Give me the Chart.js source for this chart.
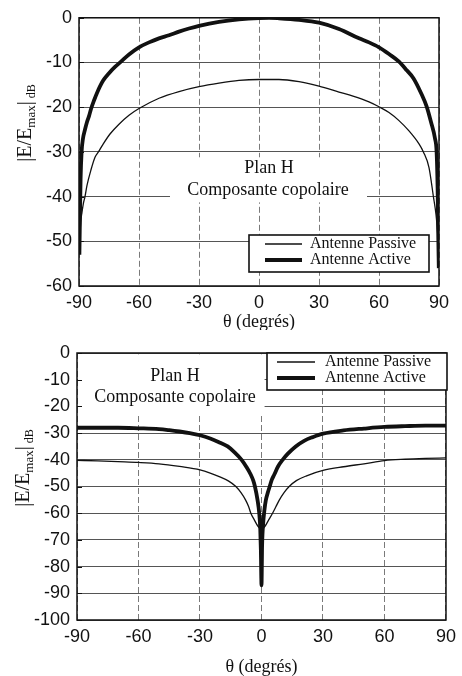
<!DOCTYPE html>
<html>
<head>
<meta charset="utf-8">
<title>Plan H - composante copolaire</title>
<script src="https://cdn.jsdelivr.net/npm/chart.js@4.4.1/dist/chart.umd.min.js"></script>
<style>
  html, body { margin: 0; padding: 0; background: #fff; }
  .panel { position: absolute; left: 0; width: 462px; }
  #panel-top    { top: 0;     height: 330px; }
  #panel-bottom { top: 330px; height: 346px; }
</style>
</head>
<body>
<div class="panel" id="panel-top"><canvas id="chart-top" width="462" height="330"></canvas></div>
<div class="panel" id="panel-bottom"><canvas id="chart-bottom" width="462" height="346"></canvas></div>
<script>
// ── Data ───────────────────────────────────────────────────
const thetaTicks   = [-90, -60, -30, 0, 30, 60, 90];
const topDbTicks   = [0, -10, -20, -30, -40, -50, -60];
const botDbTicks   = [0, -10, -20, -30, -40, -50, -60, -70, -80, -90, -100];
const seriesNames  = ['Antenne Passive', 'Antenne Active'];
const noteLines    = ['Plan H', 'Composante copolaire'];
const xTitle       = 'θ (degrés)';

// upper plot: copolar, normalised to active maximum
const topActiveTheta  = [-89.8, -89.5, -89.2, -88.7, -88, -87, -86, -85, -84, -82.5, -81, -78, -75, -72, -69, -65, -60, -55, -50, -45, -40, -35, -30, -20, -10, 0, 5, 10, 20, 30, 40, 50, 55, 60, 65, 70, 74, 77.2, 81.3, 83.8, 86, 88, 88.8, 89.3, 89.6, 89.9];
const topActiveDb     = [-53, -44, -36, -30, -27, -25, -23.3, -22, -20.4, -18.5, -16.8, -14.1, -12.4, -11, -9.8, -8.2, -6.6, -5.5, -4.6, -3.9, -3.1, -2.4, -1.8, -0.9, -0.35, -0.05, 0, -0.1, -0.45, -1.1, -2.5, -4.6, -5.5, -6.6, -8.1, -9.8, -11.8, -13.5, -17.1, -19.8, -23.3, -27, -30, -38, -48, -56];
const topPassiveTheta = [-89.6, -89.2, -88.5, -87.8, -87, -86, -84, -82, -80.3, -78, -74.5, -70, -65, -60, -50, -40, -30, -20, -10, 0, 10, 20, 30, 40, 47, 55, 60, 65, 70, 75, 80, 82.2, 85, 87.2, 88.5, 89.3, 89.7];
const topPassiveDb    = [-50, -46, -43.5, -41.5, -40, -37.5, -34, -31.2, -30, -28.3, -26, -23.8, -21.8, -20.3, -18, -16.5, -15.4, -14.6, -14, -13.8, -13.8, -14.3, -15.3, -16.6, -17.5, -18.8, -19.9, -21.2, -23, -25.3, -28.2, -30, -33.5, -40, -44, -48, -51];

// lower plot: null in the broadside direction
const botActiveTheta  = [-90, -80, -70, -60, -50, -45, -40, -35, -30, -25, -21, -16.5, -13, -9.7, -7.5, -5.2, -4, -3.2, -1.9, -1.1, -0.6, -0.3, 0, 0.3, 0.8, 1.4, 2.1, 3.2, 4, 5, 6.2, 8, 10.3, 13, 16.7, 21, 25, 30, 40, 50, 60, 70, 80, 90];
const botActiveDb     = [-28, -28, -28, -28.2, -28.5, -28.9, -29.4, -30, -30.8, -32, -33.3, -35, -37.3, -40, -42.5, -45.6, -47.8, -50, -55.2, -60, -66, -74, -87, -72, -64, -59, -55.2, -52, -50, -47.5, -45.6, -42.6, -40, -37.6, -35, -32.8, -31.5, -30.2, -29, -28.3, -27.7, -27.4, -27.2, -27.2];
const botPassiveTheta = [-90, -80, -70, -60, -50, -40, -30, -20, -16, -12.5, -10, -7.8, -6.3, -5.2, -3.5, -1.8, 0, 1.8, 3.5, 5.4, 7, 8.6, 11, 13.5, 17, 22, 30, 40, 50, 60, 70, 80, 90];
const botPassiveDb    = [-40.2, -40.4, -40.7, -41, -41.5, -42.5, -43.8, -46.5, -48, -50, -52.3, -55, -57.5, -60, -62.5, -64.8, -66, -64.8, -62.5, -60, -57.6, -55.2, -52.3, -50, -47.8, -46, -44, -42.6, -41.5, -40.3, -39.8, -39.5, -39.3];

// ── Styling ────────────────────────────────────────────────
const SANS  = '"Liberation Sans", Arial, sans-serif';
const SERIF = '"Liberation Serif", "Times New Roman", serif';
const INK   = '#111';

function points(xs, ys) {
  return xs.map(function(x, i) { return { x: x, y: ys[i] }; });
}

function curve(label, xs, ys, width, order) {
  return {
    label: label,
    data: points(xs, ys),
    borderColor: INK,
    borderWidth: width,
    pointRadius: 0,
    fill: false,
    cubicInterpolationMode: 'monotone',
    order: order,
  };
}

function fixedTicks(values) {
  return function(scale) { scale.ticks = values.map(function(v) { return { value: v }; }); };
}

// the |E/Emax| dB label, rotated, with subscripts
function drawYTitle(ctx, cx, cy) {
  const parts = [
    ['|E/E', '20px ' + SERIF, 0],
    ['max',  '13px ' + SERIF, 4],
    ['|',    '20px ' + SERIF, 0],
    [' dB',  '12px ' + SERIF, 4],
  ];
  ctx.save();
  ctx.translate(cx, cy);
  ctx.rotate(-Math.PI / 2);
  ctx.fillStyle = INK;
  ctx.textAlign = 'left';
  ctx.textBaseline = 'alphabetic';
  let total = 0;
  parts.forEach(function(p) { ctx.font = p[1]; total += ctx.measureText(p[0]).width; });
  let pos = -total / 2;
  parts.forEach(function(p) {
    ctx.font = p[1];
    ctx.fillText(p[0], pos, 6 + p[2]);
    pos += ctx.measureText(p[0]).width;
  });
  ctx.restore();
}

const decorations = {
  id: 'decorations',
  beforeDatasetsDraw(chart, args, o) {
    // white panel behind the annotation hides the grid
    const ctx = chart.ctx, x = chart.scales.x, y = chart.scales.y;
    const p = o.panel;
    const l = x.getPixelForValue(p.x0), r = x.getPixelForValue(p.x1);
    const t = y.getPixelForValue(p.y0), b = y.getPixelForValue(p.y1);
    ctx.save();
    ctx.fillStyle = '#fff';
    ctx.fillRect(l, t, r - l, b - t);
    ctx.restore();
  },
  afterDatasetsDraw(chart, args, o) {
    const ctx = chart.ctx, a = chart.chartArea, x = chart.scales.x, y = chart.scales.y;
    ctx.save();

    // plot frame + short inner ticks on the dB axis
    ctx.strokeStyle = INK;
    ctx.lineWidth = 1.5;
    ctx.strokeRect(a.left, a.top, a.right - a.left, a.bottom - a.top);
    ctx.lineWidth = 1;
    o.yTicks.forEach(function(v) {
      const py = Math.round(y.getPixelForValue(v)) + 0.5;
      ctx.beginPath(); ctx.moveTo(a.left, py); ctx.lineTo(a.left + 5, py); ctx.stroke();
    });

    // annotation
    ctx.fillStyle = INK;
    ctx.font = '18px ' + SERIF;
    ctx.textAlign = 'center';
    ctx.textBaseline = 'middle';
    o.notes.forEach(function(n, i) {
      ctx.fillText(noteLines[i], x.getPixelForValue(n.x), y.getPixelForValue(n.y));
    });

    // legend
    const lg = o.legend;
    ctx.fillStyle = '#fff';
    ctx.fillRect(lg.left, lg.top, lg.width, lg.height);
    ctx.lineWidth = 1.6;
    ctx.strokeRect(lg.left, lg.top, lg.width, lg.height);
    ctx.font = '16px ' + SERIF;
    ctx.textAlign = 'left';
    ctx.textBaseline = 'middle';
    chart.data.datasets.forEach(function(ds, i) {
      const ry = lg.top + lg.rows[i];
      ctx.strokeStyle = INK;
      ctx.lineWidth = ds.borderWidth;
      ctx.beginPath(); ctx.moveTo(lg.sampleX0, ry); ctx.lineTo(lg.sampleX1, ry); ctx.stroke();
      ctx.fillStyle = INK;
      ctx.fillText(ds.label, lg.textX, ry);
    });

    // axis titles
    ctx.font = '18px ' + SERIF;
    ctx.textAlign = 'center';
    ctx.fillText(xTitle, (a.left + a.right) / 2, o.xTitleY);
    drawYTitle(ctx, o.yTitle.x, o.yTitle.y);

    ctx.restore();
  }
};

function makeChart(id, cfg) {
  return new Chart(document.getElementById(id), {
    type: 'line',
    data: {
      datasets: [
        curve(seriesNames[0], cfg.passiveTheta, cfg.passiveDb, 1.3, 1),
        curve(seriesNames[1], cfg.activeTheta, cfg.activeDb, 3.8, 0),
      ]
    },
    options: {
      responsive: false,
      animation: false,
      layout: { padding: cfg.padding },
      plugins: {
        legend: { display: false },
        tooltip: { enabled: false },
        decorations: cfg.decor,
      },
      scales: {
        x: {
          type: 'linear', min: -90, max: 90,
          afterBuildTicks: fixedTicks(thetaTicks),
          afterFit: function(s) { s.height = cfg.xHeight; },
          grid: { color: '#7a7a7a', lineWidth: 1, drawTicks: false },
          border: { display: false, dash: [6, 3] },
          ticks: { font: { family: SANS, size: 18 }, color: INK, padding: 6, maxRotation: 0, autoSkip: false },
        },
        y: {
          type: 'linear', min: cfg.yMin, max: 0,
          afterBuildTicks: fixedTicks(cfg.yTicks),
          afterFit: function(s) { s.width = cfg.yWidth; },
          grid: { color: '#555', lineWidth: 1, drawTicks: false },
          border: { display: false },
          ticks: { font: { family: SANS, size: 18 }, color: INK, padding: 7, autoSkip: false },
        },
      }
    },
    plugins: [decorations],
  });
}

makeChart('chart-top', {
  activeTheta: topActiveTheta, activeDb: topActiveDb,
  passiveTheta: topPassiveTheta, passiveDb: topPassiveDb,
  yMin: -60, yTicks: topDbTicks,
  yWidth: 79, xHeight: 30,
  padding: { left: 0, right: 23, top: 15, bottom: 14 },
  decor: {
    yTicks: topDbTicks,
    panel: { x0: -44.5, x1: 54, y0: -31.2, y1: -41.3 },
    notes: [{ x: 5, y: -33.6 }, { x: 4.5, y: -38.5 }],
    legend: { left: 249, top: 235, width: 180, height: 37, rows: [9, 25], sampleX0: 265, sampleX1: 302, textX: 310 },
    xTitleY: 322,
    yTitle: { x: 25, y: 123 },
  },
});

makeChart('chart-bottom', {
  activeTheta: botActiveTheta, activeDb: botActiveDb,
  passiveTheta: botPassiveTheta, passiveDb: botPassiveDb,
  yMin: -100, yTicks: botDbTicks,
  yWidth: 77, xHeight: 30,
  padding: { left: 0, right: 15, top: 23, bottom: 26 },
  decor: {
    yTicks: botDbTicks,
    panel: { x0: -89.5, x1: 1.5, y0: -0.5, y1: -23.5 },
    notes: [{ x: -42.2, y: -8.8 }, { x: -42.2, y: -16.7 }],
    legend: { left: 267, top: 23, width: 180, height: 37, rows: [9, 25], sampleX0: 277, sampleX1: 315, textX: 325 },
    xTitleY: 337,
    yTitle: { x: 23, y: 138 },
  },
});
</script>
</body>
</html>
